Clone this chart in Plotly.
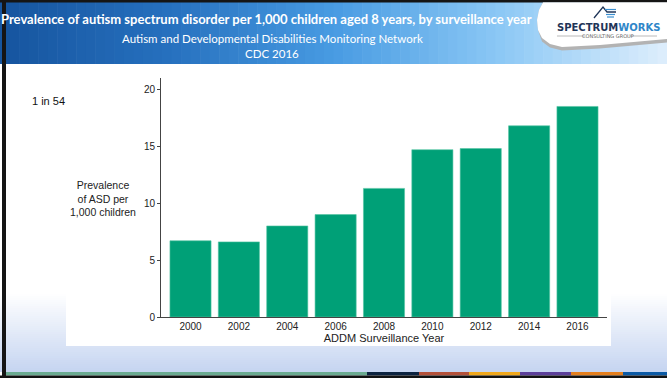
import plotly.graph_objects as go

# ADDM surveillance data: ASD prevalence per 1,000 eight-year-olds
years = ["2000", "2002", "2004", "2006", "2008", "2010", "2012", "2014", "2016"]
prevalence = [6.7, 6.6, 8.0, 9.0, 11.3, 14.7, 14.8, 16.8, 18.5]
y_ticks = [0, 5, 10, 15, 20]

W, H = 667, 378
ML, MR, MT, MB = 161, 60, 78, 61
PW, PH = W - ML - MR, H - MT - MB


def px(x):
    return (x - ML) / PW


def py(y):
    return (H - MB - y) / PH


def lerp(c1, c2, t):
    return tuple(round(a + (b - a) * t) for a, b in zip(c1, c2))


def ramp(stops, t):
    for (t0, c0), (t1, c1) in zip(stops, stops[1:]):
        if t <= t1:
            return lerp(c0, c1, (t - t0) / (t1 - t0) if t1 > t0 else 0)
    return stops[-1][1]


def rect(x0, y0, x1, y1, color):
    return dict(type="rect", xref="paper", yref="paper", layer="below",
                x0=px(x0), x1=px(x1), y0=py(y1), y1=py(y0),
                fillcolor=color, line=dict(width=0))


shapes = []

# lower background: white fading to pale blue toward the footer
for i in range(40):
    y0 = 292 + i * 2.0
    t = i / 39
    c = lerp((255, 255, 255), (198, 213, 241), t)
    shapes.append(rect(0, y0, W, y0 + 2.1, "rgb(%d,%d,%d)" % c))

# header band gradient
header_stops = [(0.0, (22, 84, 158)), (0.25, (38, 112, 190)), (0.5, (72, 155, 226)),
                (0.75, (140, 200, 245)), (1.0, (222, 238, 252))]
n = 70
for i in range(n):
    x0 = i * W / n
    c = ramp(header_stops, (i + 0.5) / n)
    shapes.append(rect(x0, 0, x0 + W / n + 0.6, 64, "rgb(%d,%d,%d)" % c))

# white content panel
shapes.append(rect(66, 66, 611, 346, "white"))

# footer colour strip
strip = [(4, 367, "#6aab91"), (367, 419, "#0c2340"), (419, 469, "#b4513a"),
         (469, 520, "#f0a81c"), (520, 571, "#5c3f9a"), (571, 623, "#e47f1e"),
         (623, 667, "#0b5aa5")]
for x0, x1, col in strip:
    shapes.append(rect(x0, 372, x1, 375.5, col))
shapes.append(rect(0, 375.5, W, H, "#111111"))

# frame edges
shapes.append(rect(2, 0, 6, H, "#151515"))
shapes.append(rect(0, 0, W, 2.5, "#151515"))


def path(points, fill=None, line=None, lw=0):
    d = "M " + " L ".join("%.5f,%.5f" % (px(x), py(y)) for x, y in points) + (" Z" if fill else "")
    s = dict(type="path", xref="paper", yref="paper", layer="above", path=d,
             line=dict(color=line or "rgba(0,0,0,0)", width=lw))
    if fill:
        s["fillcolor"] = fill
    return s


# logo badge: white swoosh in the top-right corner with a soft grey underside
badge = [(543, 2.5), (539, 10), (537, 20), (538, 30), (542, 38), (550, 44), (562, 47),
         (600, 45), (667, 39), (667, 2.5)]
badge_shadow = [(x, y + (3.5 if y > 30 else 0)) for x, y in badge]
shapes.append(path(badge_shadow, fill="#b3b3b3"))
shapes.append(path(badge, fill="white"))
# logo mark
shapes.append(path([(594, 18), (603, 7), (607, 12), (616, 12)], line="#1f3558", lw=1.3))
for k, yy in enumerate([9.5, 14.5, 17]):
    shapes.append(path([(605 + k, yy), (616 - k, yy)], line="#3b8fd0", lw=1.2))
shapes.append(path([(557, 36), (585, 36)], line="#8a8a8a", lw=0.6))
shapes.append(path([(630, 36), (657, 36)], line="#8a8a8a", lw=0.6))


def ann(text, x, y, size, color, family="Liberation Sans, Arial", xanchor="center", **kw):
    return dict(text=text, xref="paper", yref="paper", x=px(x), y=py(y), showarrow=False,
                xanchor=xanchor, yanchor="middle", font=dict(size=size, color=color, family=family), **kw)


annotations = [
    ann("<b>Prevalence of autism spectrum disorder per 1,000 children aged 8 years, by surveillance year</b>",
        266, 19, 13, "white", family="Lato"),
    ann("Autism and Developmental Disabilities Monitoring Network", 272, 38, 11.5, "white", family="Lato"),
    ann("CDC 2016", 272, 54, 11.5, "white", family="Lato"),
    ann("<b>SPECTRUM</b><b><span style='color:#2f86c8'>WORKS</span></b>", 608, 27, 10, "#1f3558",
        family="DejaVu Sans"),
    ann("CONSULTING GROUP", 608, 36, 5, "#666666", family="DejaVu Sans"),
    ann("1 in 54", 48, 101, 11, "#111111"),
    ann("Prevalence<br>of ASD per<br>1,000 children", 103, 198, 10.5, "#222222"),
]

fig = go.Figure(go.Bar(
    x=years, y=prevalence,
    marker=dict(color="#00a077", line=dict(color="#54c4a2", width=0.6)),
    width=0.85,
))

fig.update_layout(
    width=W, height=H,
    margin=dict(l=ML, r=MR, t=MT, b=MB, pad=0),
    paper_bgcolor="white", plot_bgcolor="rgba(0,0,0,0)",
    showlegend=False,
    shapes=shapes, annotations=annotations,
    font=dict(family="Liberation Sans, Arial", size=10, color="#222222"),
    xaxis=dict(
        type="category", range=[-0.61, 8.61], showgrid=False, zeroline=False,
        showline=True, linecolor="#444444", linewidth=1, ticks="",
        tickfont=dict(size=10, color="#222222"),
        title=dict(text="ADDM Surveillance Year", font=dict(size=11, color="#222222"), standoff=2),
        automargin=False, fixedrange=True,
    ),
    yaxis=dict(
        range=[0, 21], tickvals=y_ticks, showgrid=False, zeroline=False,
        showline=True, linecolor="#444444", linewidth=1,
        ticks="outside", ticklen=3, tickcolor="#444444",
        tickfont=dict(size=10, color="#222222"), automargin=False, fixedrange=True,
    ),
)

fig.write_html("out.html", config=dict(displayModeBar=False))
